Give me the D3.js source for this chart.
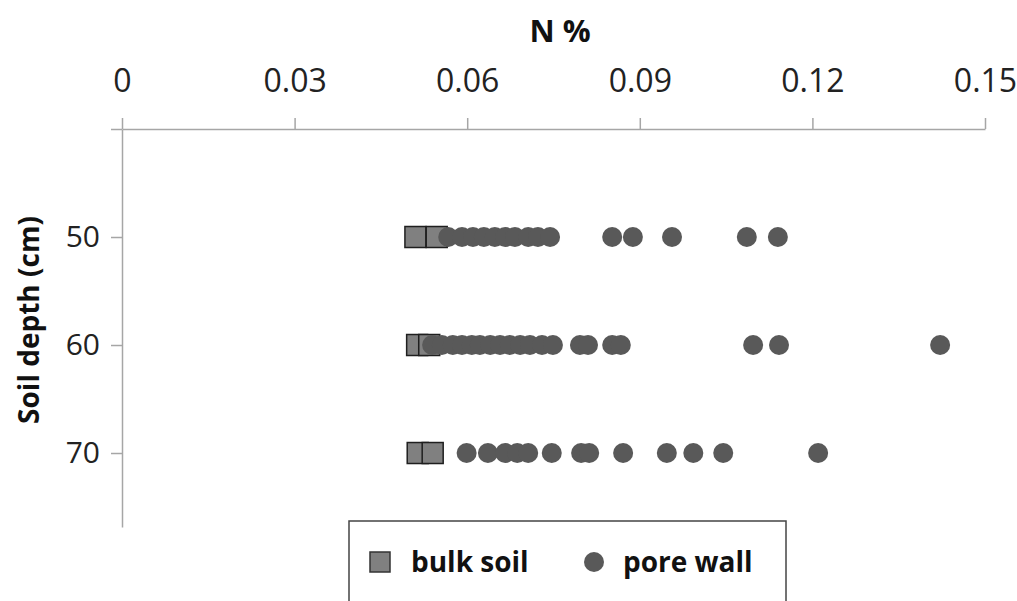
<!DOCTYPE html>
<html><head><meta charset="utf-8">
<script src="https://cdn.jsdelivr.net/npm/d3@7"></script>
<style>html,body{margin:0;padding:0;background:#fff;}svg{display:block;}</style>
</head><body>
<svg id="chart" width="1017" height="601"></svg>
<script>
// ---- data ----
const depths = [50, 60, 70];
const xTicks = [0, 0.03, 0.06, 0.09, 0.12, 0.15];
const yTicks = [40, 50, 60, 70];
const bulk50 = [0.0510, 0.0547];
const bulk60 = [0.0513, 0.0534];
const bulk70 = [0.0514, 0.0540];
const pore50 = [0.0567, 0.0591, 0.0610, 0.0629, 0.0648, 0.0666, 0.0683, 0.0706, 0.0723, 0.0744,
                0.0852, 0.0888, 0.0956, 0.1086, 0.1140];
const pore60 = [0.0539, 0.0556, 0.0575, 0.0591, 0.0608, 0.0622, 0.0640, 0.0657, 0.0674, 0.0692,
                0.0709, 0.0730, 0.0749, 0.0796, 0.0810, 0.0852, 0.0867, 0.1097, 0.1142, 0.1422];
const pore70 = [0.0599, 0.0636, 0.0666, 0.0687, 0.0706, 0.0747, 0.0798, 0.0812, 0.0871,
                0.0947, 0.0993, 0.1045, 0.1210];
const bulkSeries = [bulk50, bulk60, bulk70];
const poreSeries = [pore50, pore60, pore70];
const seriesNames = ["bulk soil", "pore wall"];

const FONT = "'Open Sans', 'DejaVu Sans', sans-serif";
const svg = d3.select("#chart");

const x = d3.scaleLinear().domain([0, 0.15]).range([122, 985]);
const y = d3.scaleLinear().domain([40, 76.85]).range([129, 527]);

const axisColor = "#a6a6a6";

// x axis (top)
const gx = svg.append("g").attr("transform", `translate(0,${y(40)})`)
  .call(d3.axisTop(x).tickValues(xTicks).tickSize(11).tickSizeOuter(0)
        .tickFormat(d => d === 0 ? "0" : d3.format(".2f")(d)));
gx.select(".domain").attr("stroke", axisColor).attr("stroke-width", 1.5);
gx.selectAll(".tick line").attr("stroke", axisColor).attr("stroke-width", 1.5);
gx.selectAll(".tick text").attr("y", -37).attr("dy", 0)
  .attr("font-family", FONT).attr("font-size", 32).attr("fill", "#222");

// y axis (left)
const gy = svg.append("g").attr("transform", `translate(${x(0)},0)`)
  .call(d3.axisLeft(y).tickValues(yTicks).tickSize(11).tickSizeOuter(0)
        .tickFormat(d => d === 40 ? "" : d));
gy.select(".domain").attr("stroke", axisColor).attr("stroke-width", 1.5);
gy.selectAll(".tick line").attr("stroke", axisColor).attr("stroke-width", 1.5);
gy.selectAll(".tick text").attr("x", -22)
  .attr("font-family", FONT).attr("font-size", 30).attr("fill", "#222");

// titles
svg.append("text").attr("x", 560).attr("y", 42).attr("text-anchor", "middle")
  .attr("font-family", FONT).attr("font-weight", "bold").attr("font-size", 31)
  .attr("fill", "#111").text("N %");
svg.append("text").attr("transform", `translate(39,320) rotate(-90)`)
  .attr("text-anchor", "middle")
  .attr("font-family", FONT).attr("font-weight", "bold").attr("font-size", 28)
  .attr("fill", "#111").text("Soil depth (cm)");

// marks
const SQ = 21, R = 10;
const sqColor = "#808080", ptColor = "#595959";
depths.forEach((dep, i) => {
  svg.append("g").selectAll("rect").data(bulkSeries[i]).join("rect")
    .attr("x", d => x(d) - SQ / 2).attr("y", y(dep) - SQ / 2)
    .attr("width", SQ).attr("height", SQ)
    .attr("fill", sqColor).attr("stroke", "#1f1f1f").attr("stroke-width", 1.5);
});
depths.forEach((dep, i) => {
  svg.append("g").selectAll("circle").data(poreSeries[i]).join("circle")
    .attr("cx", d => x(d)).attr("cy", y(dep)).attr("r", R)
    .attr("fill", ptColor);
});

// legend
const lg = svg.append("g");
lg.append("rect").attr("x", 349).attr("y", 521).attr("width", 437).attr("height", 110)
  .attr("fill", "#fff").attr("stroke", "#444").attr("stroke-width", 1.5);
lg.append("rect").attr("x", 370).attr("y", 552).attr("width", 20).attr("height", 20)
  .attr("fill", sqColor).attr("stroke", "#333").attr("stroke-width", 1.5);
lg.append("text").attr("x", 411).attr("y", 572).text(seriesNames[0])
  .attr("font-family", FONT).attr("font-weight", "bold").attr("font-size", 28).attr("fill", "#111");
lg.append("circle").attr("cx", 594).attr("cy", 562).attr("r", 10).attr("fill", ptColor);
lg.append("text").attr("x", 623).attr("y", 572).text(seriesNames[1])
  .attr("font-family", FONT).attr("font-weight", "bold").attr("font-size", 28).attr("fill", "#111");
</script>
</body></html>
